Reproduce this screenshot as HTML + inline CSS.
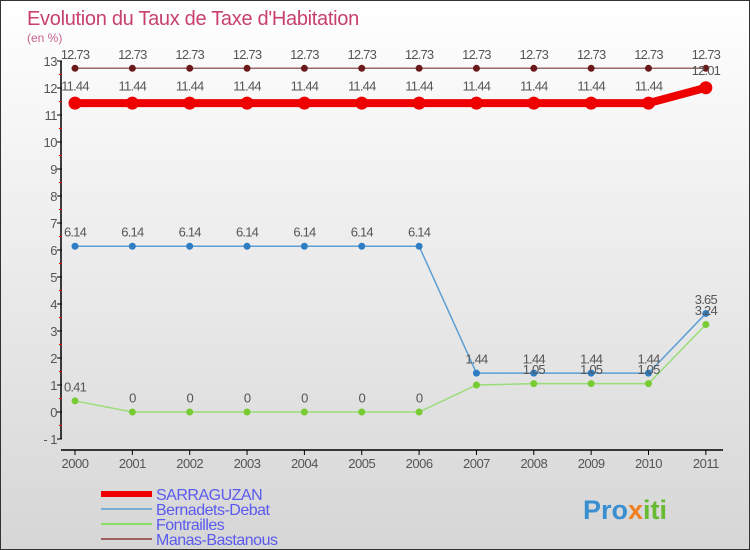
<!DOCTYPE html>
<html><head><meta charset="utf-8"><style>
body{margin:0}
#c{width:748px;height:548px;border:1px solid #333;background:linear-gradient(#ffffff,#d6d6d6);position:relative;font-family:"Liberation Sans",sans-serif;overflow:hidden}
</style></head><body>
<div id="c">
<svg id="s" width="748" height="548"></svg>
</div>
<script>
const years=["2000","2001","2002","2003","2004","2005","2006","2007","2008","2009","2010","2011"];
const sarraguzan=[11.44,11.44,11.44,11.44,11.44,11.44,11.44,11.44,11.44,11.44,11.44,12.01];
const bernadets=[6.14,6.14,6.14,6.14,6.14,6.14,6.14,1.44,1.44,1.44,1.44,3.65];
const fontrailles=[0.41,0,0,0,0,0,0,1,1.05,1.05,1.05,3.24];
const manas=[12.73,12.73,12.73,12.73,12.73,12.73,12.73,12.73,12.73,12.73,12.73,12.73];
const yTicks=[-1,0,1,2,3,4,5,6,7,8,9,10,11,12,13];
const NS="http://www.w3.org/2000/svg";
const s=document.getElementById('s');
function X(i){return 74+i*57.35;}
function Y(v){return 411-v*27;}
function el(t,a,txt){const e=document.createElementNS(NS,t);for(const k in a)e.setAttribute(k,a[k]);if(txt!==undefined)e.textContent=txt;s.appendChild(e);return e;}
let e;
e=el('text',{x:26,y:24,'font-size':20,fill:'#c8406e','letter-spacing':'-0.3'},"Evolution du Taux de Taxe d'Habitation");

e=el('text',{x:26,y:41,'font-size':12,fill:'#c8608e'},"(en %)");

e=el('line',{x1:60,y1:Y(13),x2:60,y2:Y(-1),stroke:'#000','stroke-width':1.5});

yTicks.forEach(v=>{
 el('line',{x1:56,y1:Y(v),x2:61,y2:Y(v),stroke:'#000'});
 if(v<13)el('line',{x1:58,y1:Y(v+0.5),x2:61,y2:Y(v+0.5),stroke:'#e00'});
 e=el('text',{x:56,y:Y(v)+5,'font-size':13,fill:'#555','text-anchor':'end','letter-spacing':'-0.5'},v===-1?'- 1':String(v));
 
});
e=el('line',{x1:60,y1:449,x2:722,y2:449,stroke:'#000','stroke-width':1.5});

years.forEach((y,i)=>{
 el('line',{x1:X(i),y1:449,x2:X(i),y2:454,stroke:'#000'});
 e=el('text',{x:X(i),y:467,'font-size':13,fill:'#555','text-anchor':'middle','letter-spacing':'-0.5'},y);
 
});
function series(data,color,lw,r,ptColor,name,labels){
 const pts=data.map((v,i)=>X(i)+','+Y(v)).join(' ');
 let p=el('polyline',{points:pts,fill:'none',stroke:color,'stroke-width':lw});
 
 data.forEach((v,i)=>{
  let c=el('circle',{cx:X(i),cy:Y(v),r:r,fill:ptColor});
  
  if(labels&&!(name==='fontrailles'&&i===7)){
   let t=el('text',{x:X(i),y:Y(v)-(r+6),'font-size':13,fill:'#555','text-anchor':'middle','letter-spacing':'-0.8'},String(v));
   
  }
 });
}
series(manas,'#9a6a6a',1.5,3.5,'#6a1a1a','manas',true);
series(bernadets,'#5c9fd6',1.5,3.5,'#2f7ec4','bernadets',true);
series(fontrailles,'#99dd77',1.5,3.5,'#77cc33','fontrailles',true);
series(sarraguzan,'#ee0000',8,6.5,'#ee0000','sarraguzan',true);
const leg=[['SARRAGUZAN','#ee0000',6],['Bernadets-Debat','#7aaed0',2],['Fontrailles','#88dd66',2],['Manas-Bastanous','#a06060',2]];
leg.forEach((l,i)=>{
 const y=493+i*15;
 e=el('line',{x1:100,y1:y,x2:151,y2:y,stroke:l[1],'stroke-width':l[2]});
 
 e=el('text',{x:155,y:y+6,'font-size':16,fill:'#5a5aee','letter-spacing':'-0.5'},l[0]);
 
});
e=el('text',{x:582,y:518,'font-size':27,'font-weight':'bold'});

e.innerHTML='<tspan fill="#3a8fd0">Pro</tspan><tspan fill="#f08020">x</tspan><tspan fill="#66bb33">iti</tspan>';
</script>
</body></html>
